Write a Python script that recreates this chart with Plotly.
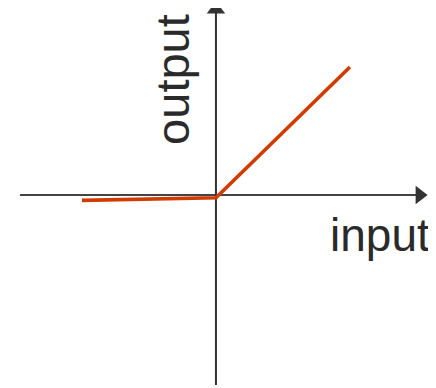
import plotly.graph_objects as go

# Leaky ReLU-like curve (data units; 1 unit ~ 134 px)
curve_x = [-1.0, 0.0, 1.0]
curve_y = [-0.04, -0.02, 0.955]

# axis extents
h_axis_x = [-1.463, 1.52]
h_axis_y = [0.0, 0.0]
v_axis_x = [0.0, 0.0]
v_axis_y = [-1.418, 1.385]

x_label = "input"
y_label = "output"

fig = go.Figure()
fig.add_trace(go.Scatter(x=h_axis_x, y=h_axis_y, mode="lines",
                         line=dict(color="#444444", width=2), hoverinfo="skip"))
fig.add_trace(go.Scatter(x=v_axis_x, y=v_axis_y, mode="lines",
                         line=dict(color="#333333", width=2), hoverinfo="skip"))
# arrowheads
fig.add_trace(go.Scatter(x=[h_axis_x[1]], y=[0], mode="markers",
                         marker=dict(symbol="triangle-right", size=16, color="#333333"),
                         hoverinfo="skip"))
fig.add_trace(go.Scatter(x=[0], y=[v_axis_y[1]], mode="markers",
                         marker=dict(symbol="triangle-up", size=16, color="#333333"),
                         hoverinfo="skip"))
fig.add_trace(go.Scatter(x=curve_x, y=curve_y, mode="lines",
                         line=dict(color="#d03c00", width=3.6), hoverinfo="skip"))

fig.add_annotation(x=1.225, y=-0.30, text=x_label, showarrow=False,
                   font=dict(family="Liberation Sans, Arial, sans-serif", size=46, color="#2a2a2a"))
fig.add_annotation(x=-0.32, y=0.86, text=y_label, showarrow=False, textangle=-90,
                   font=dict(family="Liberation Sans, Arial, sans-serif", size=47, color="#2a2a2a"))

fig.update_layout(
    width=436, height=388, margin=dict(l=0, r=0, t=0, b=0),
    paper_bgcolor="white", plot_bgcolor="white", showlegend=False,
    xaxis=dict(range=[-1.552, 1.702], visible=False, fixedrange=True),
    yaxis=dict(range=[-1.500, 1.396], visible=False, fixedrange=True),
)
fig.write_html("out.html")
